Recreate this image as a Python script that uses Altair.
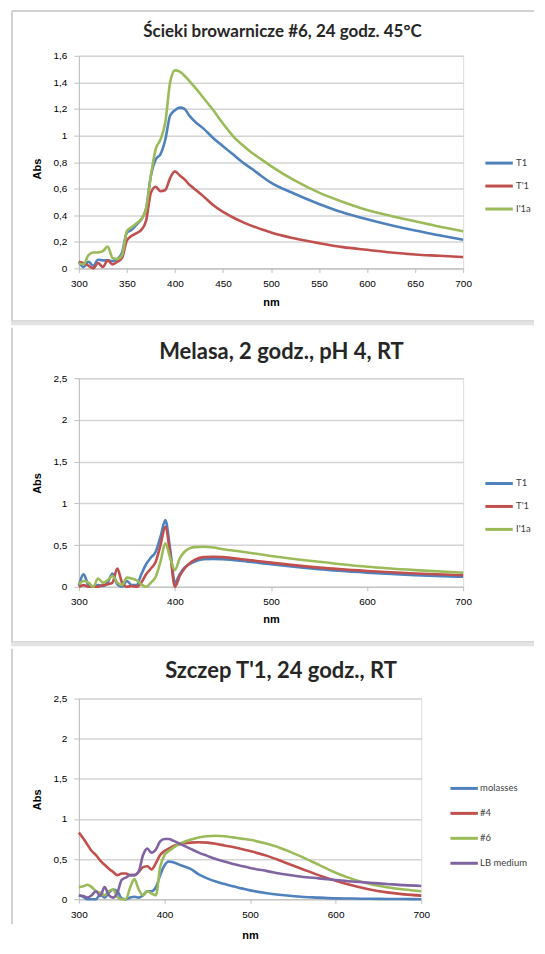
import altair as alt
import pandas as pd

# ---------------- data ----------------
# Panel 1: Ścieki browarnicze #6
X1 = [300, 305, 310, 315, 320, 325, 330, 335, 340, 345, 350, 355, 360, 365, 370, 375, 380, 385, 390, 395, 400,
      405, 410, 415, 420, 430, 440, 450, 460, 470, 480, 490, 500, 525, 550, 575, 600, 625, 650, 675, 700]
P1_T1 = [0.05, 0.01, 0.05, 0.02, 0.065, 0.06, 0.06, 0.055, 0.07, 0.12, 0.27, 0.29, 0.33, 0.37, 0.45, 0.70, 0.82, 0.86, 0.97, 1.15, 1.19,
         1.21, 1.20, 1.15, 1.11, 1.05, 0.98, 0.92, 0.86, 0.80, 0.75, 0.695, 0.645, 0.56, 0.485, 0.42, 0.37, 0.325, 0.285, 0.25, 0.215]
P1_Tp1 = [0.05, 0.04, 0.02, 0.00, 0.04, 0.01, 0.06, 0.03, 0.05, 0.08, 0.21, 0.245, 0.265, 0.29, 0.36, 0.57, 0.615, 0.58, 0.59, 0.68, 0.73,
          0.70, 0.67, 0.63, 0.60, 0.54, 0.475, 0.425, 0.385, 0.35, 0.32, 0.295, 0.27, 0.225, 0.19, 0.16, 0.14, 0.12, 0.105, 0.095, 0.085]
P1_I1a = [0.04, 0.03, 0.10, 0.12, 0.12, 0.13, 0.165, 0.08, 0.07, 0.10, 0.28, 0.31, 0.34, 0.37, 0.45, 0.70, 0.90, 0.97, 1.10, 1.40, 1.49,
          1.48, 1.45, 1.41, 1.37, 1.28, 1.19, 1.09, 1.00, 0.93, 0.87, 0.82, 0.77, 0.66, 0.57, 0.50, 0.44, 0.395, 0.355, 0.315, 0.28]
P1_NAMES = ["T1", "T'1", "I'1a"]

# Panel 2: Melasa
X2 = [300, 305, 310, 315, 320, 325, 330, 335, 340, 345, 350, 355, 360, 365, 370, 375, 380, 385, 390, 395, 400,
      405, 410, 415, 420, 430, 440, 450, 470, 500, 550, 600, 650, 700]
P2_T1 = [0.01, 0.15, 0.02, 0.00, 0.02, 0.01, 0.05, 0.16, 0.03, 0.00, 0.07, 0.02, 0.02, 0.15, 0.27, 0.35, 0.42, 0.60, 0.80, 0.45, 0.05,
         0.15, 0.23, 0.27, 0.30, 0.33, 0.335, 0.33, 0.31, 0.27, 0.21, 0.17, 0.14, 0.12]
P2_Tp1 = [0.00, 0.02, 0.00, 0.00, 0.00, 0.02, 0.03, 0.05, 0.22, 0.05, 0.00, 0.01, 0.00, 0.05, 0.15, 0.22, 0.30, 0.50, 0.72, 0.40, 0.00,
          0.13, 0.22, 0.28, 0.32, 0.355, 0.36, 0.355, 0.33, 0.29, 0.23, 0.19, 0.16, 0.14]
P2_I1a = [0.03, 0.07, 0.05, 0.00, 0.10, 0.05, 0.08, 0.13, 0.05, 0.02, 0.11, 0.10, 0.08, 0.03, 0.00, 0.05, 0.12, 0.30, 0.52, 0.35, 0.20,
          0.34, 0.42, 0.46, 0.475, 0.48, 0.47, 0.45, 0.42, 0.37, 0.30, 0.24, 0.20, 0.17]
P2_NAMES = ["T1", "T'1", "I'1a"]

# Panel 3: Szczep T'1
X3 = [300, 305, 310, 315, 320, 325, 330, 335, 340, 345, 350, 355, 360, 365, 370, 375, 380, 385, 390, 395, 400, 405, 410,
      420, 430, 440, 450, 460, 470, 480, 490, 500, 520, 540, 560, 580, 600, 620, 640, 660, 680, 700]
P3_MOL = [0.05, 0.03, 0.00, 0.00, 0.00, 0.06, 0.02, 0.08, 0.12, 0.10, 0.01, 0.00, 0.02, 0.03, 0.02, 0.05, 0.10, 0.10, 0.15, 0.30, 0.42, 0.47, 0.46,
          0.42, 0.38, 0.31, 0.26, 0.22, 0.19, 0.16, 0.135, 0.11, 0.075, 0.05, 0.03, 0.02, 0.01, 0.008, 0.005, 0.003, 0.002, 0.0]
P3_N4 = [0.83, 0.76, 0.68, 0.60, 0.55, 0.48, 0.43, 0.38, 0.34, 0.30, 0.32, 0.32, 0.30, 0.30, 0.34, 0.40, 0.41, 0.37, 0.45, 0.55, 0.60, 0.63, 0.66,
         0.69, 0.705, 0.71, 0.705, 0.69, 0.67, 0.65, 0.625, 0.60, 0.54, 0.46, 0.38, 0.30, 0.23, 0.17, 0.12, 0.085, 0.06, 0.045]
P3_N6 = [0.15, 0.16, 0.18, 0.15, 0.10, 0.08, 0.05, 0.10, 0.12, 0.03, 0.00, 0.00, 0.15, 0.25, 0.12, 0.05, 0.10, 0.07, 0.05, 0.40, 0.55, 0.60, 0.64,
         0.70, 0.74, 0.77, 0.785, 0.79, 0.785, 0.77, 0.755, 0.74, 0.69, 0.62, 0.53, 0.43, 0.33, 0.25, 0.19, 0.15, 0.12, 0.10]
P3_LB = [0.05, 0.04, 0.02, 0.05, 0.10, 0.04, 0.15, 0.05, 0.02, 0.08, 0.24, 0.27, 0.30, 0.30, 0.35, 0.55, 0.63, 0.58, 0.62, 0.72, 0.75, 0.75, 0.73,
         0.68, 0.63, 0.58, 0.54, 0.50, 0.47, 0.44, 0.415, 0.39, 0.35, 0.31, 0.28, 0.26, 0.24, 0.22, 0.205, 0.19, 0.175, 0.165]
P3_NAMES = ["molasses", "#4", "#6", "LB medium"]

TITLES = ["Ścieki browarnicze #6, 24 godz. 45°C", "Melasa, 2 godz., pH 4, RT", "Szczep T'1, 24 godz., RT"]
COLORS3 = ["#4F81BD", "#C0504D", "#9BBB59"]
COLORS4 = ["#4F81BD", "#C0504D", "#9BBB59", "#8064A2"]

FONT = "Lato"
GRID = "#d4d4d4"
BORDER = "#d2d2d2"
BAND = "#e4e4e4"
TXT = "#595959"
RIGHT = 456  # right end of the panel frame lines (plot-relative px)


def long_df(x, names, series):
    rows = []
    for name, vals in zip(names, series):
        for xv, yv in zip(x, vals):
            rows.append({"nm": xv, "Abs": yv, "s": name})
    return pd.DataFrame(rows)


ONE = pd.DataFrame({"d": [0]})


def panel(df, names, colors, width, height, ymax, ystep, xstep, title, tfont, tx, ty,
          lx, ly, lrow, loff, abs_y, nm_y, left_top, left_bot, top_rule=False, band_y=None):
    yvals = [round(i * ystep, 2) for i in range(int(round(ymax / ystep)) + 1)]
    xvals = list(range(300, 701, xstep))
    lines = alt.Chart(df).mark_line(strokeWidth=2.6, interpolate="monotone").encode(
        x=alt.X("nm:Q", scale=alt.Scale(domain=[300, 700], nice=False),
                axis=alt.Axis(values=xvals, format="d", title="nm", grid=False, labelFlush=False,
                              tickSize=4, labelPadding=6, titleY=nm_y, titleBaseline="middle",
                              domainColor="#bfbfbf", tickColor="#bfbfbf")),
        y=alt.Y("Abs:Q", scale=alt.Scale(domain=[0, ymax], nice=False),
                axis=alt.Axis(values=yvals, format=".1~f", labelExpr="replace(datum.label, '.', ',')",
                              title="Abs", titleX=-41, titleY=abs_y, titleAngle=-90, labelFlush=False,
                              titleAlign="center", titleBaseline="middle",
                              grid=True, gridColor=GRID, gridWidth=1.5,
                              tickSize=5, labelPadding=7,
                              domainColor="#bfbfbf", tickColor="#bfbfbf")),
        color=alt.Color("s:N", sort=names,
                        scale=alt.Scale(domain=names, range=colors),
                        legend=alt.Legend(title=None, orient="none", legendX=lx, legendY=ly,
                                          symbolType="M-2.5,0H2.5", symbolSize=121,
                                          symbolStrokeWidth=3, labelOffset=loff, rowPadding=lrow,
                                          labelFontSize=9.5, labelColor="#404040", labelFont=FONT)),
    )
    layers = []
    layers.append(alt.Chart(ONE).mark_rule(color=BORDER, strokeWidth=2).encode(
        x=alt.value(-67), y=alt.value(left_top), y2=alt.value(left_bot)))
    if top_rule:
        layers.append(alt.Chart(ONE).mark_rule(color=BORDER, strokeWidth=2).encode(
            x=alt.value(-67), x2=alt.value(RIGHT), y=alt.value(left_top)))
    if band_y is not None:
        layers.append(alt.Chart(ONE).mark_rule(color=BAND, strokeWidth=5).encode(
            x=alt.value(-68), x2=alt.value(RIGHT), y=alt.value(band_y)))
        layers.append(alt.Chart(ONE).mark_rule(color=BORDER, strokeWidth=1).encode(
            x=alt.value(-68), x2=alt.value(RIGHT), y=alt.value(band_y - 2)))
    layers.append(alt.Chart(ONE).mark_text(text=title, font=FONT, fontSize=tfont, fontWeight="bold",
                                           color="#262626", align="center", baseline="middle").encode(
        x=alt.value(tx), y=alt.value(ty)))
    layers.append(lines)
    return alt.layer(*layers).properties(width=width, height=height)


df1 = long_df(X1, P1_NAMES, [P1_T1, P1_Tp1, P1_I1a])
df2 = long_df(X2, P2_NAMES, [P2_T1, P2_Tp1, P2_I1a])
df3 = long_df(X3, P3_NAMES, [P3_MOL, P3_N4, P3_N6, P3_LB])

c1 = panel(df1, P1_NAMES, COLORS3, 385, 213, 1.6, 0.2, 50, TITLES[0], 17, 204, -24,
           414, 100.5, 10, 10, 113, 34, -45, 267.5, top_rule=True, band_y=267.5)
c2 = panel(df2, P2_NAMES, COLORS3, 385, 209, 2.5, 0.5, 100, TITLES[1], 22, 203, -26,
           414, 98.5, 10, 10, 105, 33, -50.5, 266, band_y=266)
c3 = panel(df3, P3_NAMES, COLORS4, 343, 201, 2.5, 0.5, 100, TITLES[2], 22, 202.5, -28,
           379, 83, 12, 9, 101, 36, -50, 226)

chart = alt.vconcat(c1, c2, c3, spacing=0).resolve_scale(
    color="independent", x="independent", y="independent"
).properties(
    padding={"left": 0, "top": 0, "right": 0, "bottom": 0}
).configure_view(stroke=None).configure_axis(
    labelFont=FONT, labelFontSize=9, labelColor=TXT,
    titleFont=FONT, titleFontSize=9, titleFontWeight="bold", titleColor="#404040"
).configure(background="white")

chart.save("out.html", embed_options={"renderer": "svg", "actions": False})
